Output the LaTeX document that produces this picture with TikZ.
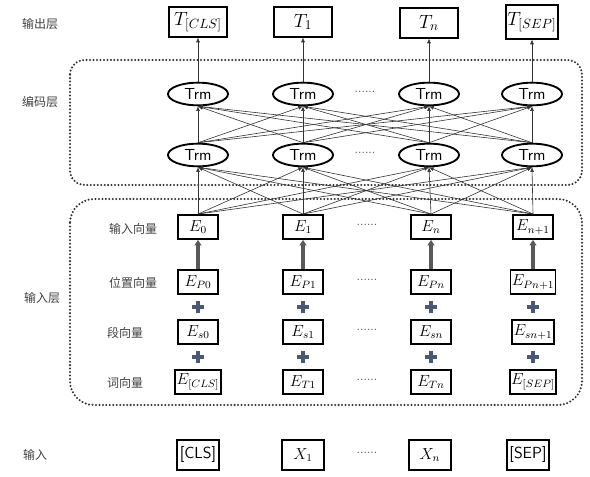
\documentclass[tikz,border=0pt]{standalone}
\usepackage{fontspec}
\newfontfamily\cjk{Noto Sans CJK SC}
\usetikzlibrary{arrows.meta,shapes.geometric}
\definecolor{plusblue}{HTML}{4A5878}
\definecolor{linegray}{HTML}{333333}
\tikzset{
  tbox/.style={draw, line width=1.4pt, minimum width=44pt, minimum height=22pt, inner sep=1pt, font=\Large},
  ebox/.style={draw, line width=1.4pt, minimum width=30pt, minimum height=18pt, inner sep=1pt, font=\large},
  xbox/.style={draw, line width=1.4pt, minimum width=31pt, minimum height=22pt, inner sep=1pt, font=\large},
  trm/.style={draw, ellipse, line width=1.4pt, minimum width=45pt, minimum height=17pt, inner sep=0pt, font=\sffamily\large},
  lbl/.style={font=\cjk\small, text=black!75},
  sublbl/.style={font=\cjk\small, text=black!75},
  conn/.style={-{Latex[length=3.5pt,width=3pt]}, line width=0.45pt, draw=linegray},
  uparrow/.style={-{Triangle[length=4pt,width=5pt]}, line width=2.4pt, draw=black!65},
  sep/.style={font=\small, text=black!70},
  layerbox/.style={dash pattern=on 0pt off 2.6pt, line cap=round, line width=1.7pt, draw=black!80}
}
\begin{document}
\begin{tikzpicture}[x=0.75pt,y=-0.75pt]
\useasboundingbox (0,0) rectangle (590,477);
% layer boxes
\draw[layerbox, rounded corners=11pt] (70,60) rectangle (582,185);
\draw[layerbox, rounded corners=18pt] (70,199) rectangle (582,405);
% left labels
\node[lbl] (Lout) at (40,24) {输出层};
\node[lbl] (Lenc) at (40,102) {编码层};
\node[lbl] (Lin) at (42,298) {输入层};
\node[lbl] (Linput) at (35,455) {输入};
\node[sublbl] (Lv) at (133,229) {输入向量};
\node[sublbl] (Lp) at (133,283) {位置向量};
\node[sublbl] (Ls) at (125,333) {段向量};
\node[sublbl] (Lw) at (125,383) {词向量};
% output
\node[tbox] (T1) at (198,22) {$T_{[CLS]}$};
\node[tbox] (T2) at (303,22) {$T_1$};
\node[tbox] (T3) at (429,23) {$T_n$};
\node[tbox, minimum width=37pt, minimum height=25pt] (T4) at (532,22) {$T_{[SEP]}$};
% Trm
\node[trm] (U1) at (198,94) {Trm};
\node[trm] (U2) at (303,94) {Trm};
\node[trm] (U3) at (429,94) {Trm};
\node[trm] (U4) at (532,94) {Trm};
\node[trm] (D1) at (198,155) {Trm};
\node[trm] (D2) at (303,155) {Trm};
\node[trm] (D3) at (429,155) {Trm};
\node[trm] (D4) at (532,155) {Trm};
% embeddings
\node[ebox] (E1) at (198,227) {$E_0$};
\node[ebox] (E2) at (303,227) {$E_1$};
\node[ebox] (E3) at (431,227) {$E_n$};
\node[ebox] (E4) at (533,227) {$E_{n+1}$};
\node[ebox] (P1) at (198,282) {$E_{P0}$};
\node[ebox] (P2) at (303,282) {$E_{P1}$};
\node[ebox] (P3) at (431,282) {$E_{Pn}$};
\node[ebox] (P4) at (533,282) {$E_{Pn+1}$};
\node[ebox] (S1) at (198,332) {$E_{s0}$};
\node[ebox] (S2) at (303,332) {$E_{s1}$};
\node[ebox] (S3) at (431,332) {$E_{sn}$};
\node[ebox] (S4) at (533,332) {$E_{sn+1}$};
\node[ebox] (W1) at (198,382) {$E_{[CLS]}$};
\node[ebox] (W2) at (303,382) {$E_{T1}$};
\node[ebox] (W3) at (431,382) {$E_{Tn}$};
\node[ebox] (W4) at (533,382) {$E_{[SEP]}$};
% input
\node[xbox, font=\sffamily\large] (X1) at (198,455) {[CLS]};
\node[xbox] (X2) at (303,455) {$X_1$};
\node[xbox] (X3) at (430,455) {$X_n$};
\node[xbox, font=\sffamily\large] (X4) at (528,455) {[SEP]};
% separators
\node[sep] (s1) at (365,92) {......};
\node[sep] (s2) at (365,153) {......};
\node[sep] (s3) at (367,225) {......};
\node[sep] (s4) at (367,280) {......};
\node[sep] (s5) at (367,330) {......};
\node[sep] (s6) at (367,380) {......};
\node[sep] (s7) at (367,453) {......};
% connectors
\foreach \i in {1,...,4}{
  \draw[conn] (U\i) -- (T\i);
  \draw[uparrow] (P\i) -- (E\i);
  \foreach \j in {1,...,4}{
    \draw[conn] (E\i.north) -- (D\j.south);
    \draw[conn] (D\i.north) -- (U\j.south);
  }
}
% plus signs
\foreach \c in {1,...,4}{
  \path (P\c.south) -- (S\c.north) coordinate[pos=0.5] (pa\c);
  \path (S\c.south) -- (W\c.north) coordinate[pos=0.5] (pb\c);
  \draw[plusblue, line width=3.4pt] ([xshift=-4.5pt]pa\c) -- ([xshift=4.5pt]pa\c) ([yshift=-4.5pt]pa\c) -- ([yshift=4.5pt]pa\c);
  \draw[plusblue, line width=3.4pt] ([xshift=-4.5pt]pb\c) -- ([xshift=4.5pt]pb\c) ([yshift=-4.5pt]pb\c) -- ([yshift=4.5pt]pb\c);
}
\end{tikzpicture}
\end{document}
